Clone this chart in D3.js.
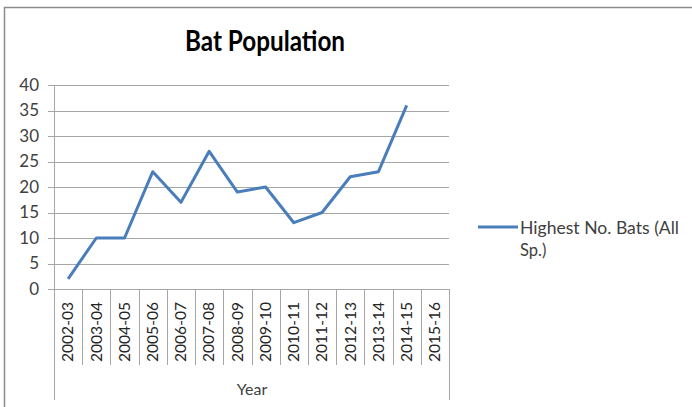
<!DOCTYPE html>
<html>
<head>
<meta charset="utf-8">
<script src="https://cdn.jsdelivr.net/npm/d3@7"></script>
<style>
  body { margin: 0; background: #fff; }
  svg { display: block; font-family: Lato, "Open Sans", sans-serif; }
</style>
</head>
<body>
<svg id="chart"></svg>
<script>
const years = ["2002-03", "2003-04", "2004-05", "2005-06", "2006-07", "2007-08", "2008-09",
    "2009-10", "2010-11", "2011-12", "2012-13", "2013-14", "2014-15", "2015-16"];
const bats = [2, 10, 10, 23, 17, 27, 19, 20, 13, 15, 22, 23, 36, null];
const yTicks = [0, 5, 10, 15, 20, 25, 30, 35, 40];

const width = 692, height = 407;
const svg = d3.select("#chart")
    .attr("width", width)
    .attr("height", height);

// chart frame
svg.append("rect")
    .attr("x", 4.5).attr("y", 7.5)
    .attr("width", 690).attr("height", 410)
    .attr("fill", "none")
    .attr("stroke", "#8c8c8c")
    .attr("stroke-width", 1.5);

const x = d3.scaleBand()
    .domain(years)
    .range([54, 449]);

const y = d3.scaleLinear()
    .domain([0, 40])
    .range([289, 85]);

// gridlines
svg.append("g")
    .selectAll("line")
    .data(yTicks)
    .join("line")
        .attr("x1", 48).attr("x2", 449)
        .attr("y1", d => Math.round(y(d)) + 0.5)
        .attr("y2", d => Math.round(y(d)) + 0.5)
        .attr("stroke", "#a6a6a6");

svg.append("g")
    .selectAll("text")
    .data(yTicks)
    .join("text")
        .attr("x", 39)
        .attr("y", d => y(d))
        .attr("dy", "0.35em")
        .attr("text-anchor", "end")
        .attr("font-size", 17)
        .attr("fill", "#404040")
        .text(d => d);

// value axis line
svg.append("line")
    .attr("x1", 54.5).attr("x2", 54.5)
    .attr("y1", 85).attr("y2", 400)
    .attr("stroke", "#a6a6a6");

// category separators
const edges = years.map(d => x(d)).concat([x.range()[1]]);
svg.append("g")
    .selectAll("line")
    .data(edges)
    .join("line")
        .attr("x1", d => Math.round(d) + 0.5)
        .attr("x2", d => Math.round(d) + 0.5)
        .attr("y1", 289)
        .attr("y2", (d, i) => (i === 0 || i === edges.length - 1) ? 400 : 365)
        .attr("stroke", "#a6a6a6");

svg.append("g")
    .selectAll("text")
    .data(years)
    .join("text")
        .attr("transform", d => `translate(${x(d) + x.bandwidth() / 2}, 302) rotate(-90)`)
        .attr("dy", "0.35em")
        .attr("text-anchor", "end")
        .attr("font-size", 15)
        .attr("textLength", 60)
        .attr("lengthAdjust", "spacingAndGlyphs")
        .attr("fill", "#262626")
        .text(d => d);

svg.append("text")
    .attr("x", 252).attr("y", 395)
    .attr("text-anchor", "middle")
    .attr("font-size", 16)
    .attr("fill", "#404040")
    .text("Year");

// series line
const line = d3.line()
    .defined(d => d.v != null)
    .x(d => x(d.year) + x.bandwidth() / 2)
    .y(d => y(d.v));

svg.append("path")
    .datum(years.map((year, i) => ({ year, v: bats[i] })))
    .attr("d", line)
    .attr("fill", "none")
    .attr("stroke", "#4a7ebb")
    .attr("stroke-width", 3)
    .attr("stroke-linejoin", "round");

// title
svg.append("text")
    .attr("x", 265).attr("y", 51)
    .attr("text-anchor", "middle")
    .attr("font-size", 28)
    .attr("font-weight", "bold")
    .attr("textLength", 160)
    .attr("lengthAdjust", "spacingAndGlyphs")
    .attr("fill", "#000")
    .text("Bat Population");

// legend
svg.append("line")
    .attr("x1", 478).attr("x2", 518)
    .attr("y1", 227).attr("y2", 227)
    .attr("stroke", "#4a7ebb")
    .attr("stroke-width", 3);

svg.append("text")
    .attr("x", 520).attr("y", 234)
    .attr("font-size", 16.5)
    .attr("fill", "#404040")
    .selectAll("tspan")
    .data(["Highest No. Bats (All", "Sp.)"])
    .join("tspan")
        .attr("x", 520)
        .attr("dy", (d, i) => i ? 22 : 0)
        .attr("textLength", (d, i) => i ? null : 159)
        .attr("lengthAdjust", "spacingAndGlyphs")
        .text(d => d);
</script>
</body>
</html>
